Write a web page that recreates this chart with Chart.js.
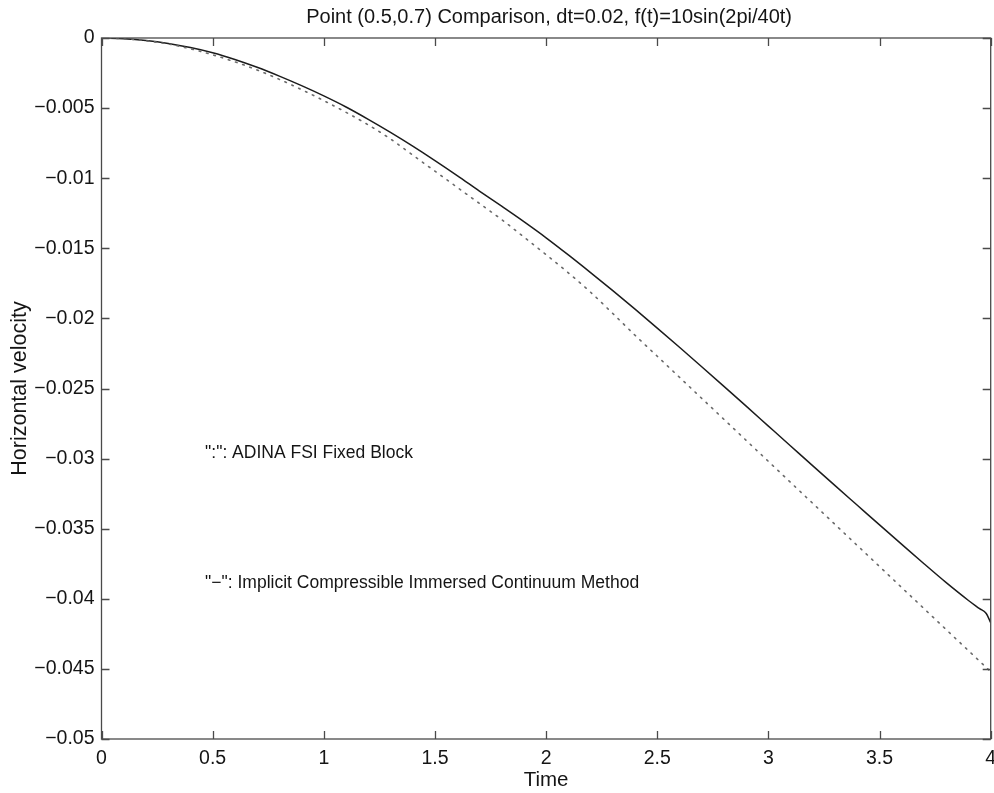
<!DOCTYPE html>
<html>
<head>
<meta charset="utf-8">
<script src="https://cdn.jsdelivr.net/npm/chart.js@4/dist/chart.umd.min.js"></script>
<style>
  html, body { margin: 0; padding: 0; background: #fff; }
  #wrap { width: 994px; height: 793px; position: relative; }
</style>
</head>
<body>
<div id="wrap"><canvas id="c"></canvas></div>
<script>
(function () {
  "use strict";

  var times = [0, 0.1, 0.2, 0.3, 0.4, 0.5, 0.6, 0.7, 0.8, 0.9, 1.0, 1.1, 1.2, 1.3, 1.4, 1.5, 1.6, 1.7, 1.8, 1.9, 2.0,
    2.1, 2.2, 2.3, 2.4, 2.5, 2.6, 2.7, 2.8, 2.9, 3.0, 3.1, 3.2, 3.3, 3.4, 3.5, 3.6, 3.7, 3.8, 3.9, 3.95, 3.98, 4.0];

  // "-": Implicit Compressible Immersed Continuum Method (solid)
  var implicitVel = [0, -0.00005, -0.00018, -0.00039, -0.00068, -0.00105, -0.00153, -0.00209, -0.00272, -0.0034, -0.00413,
    -0.00492, -0.0058, -0.00673, -0.00771, -0.00874, -0.00981, -0.01092, -0.012, -0.0131, -0.01425,
    -0.01547, -0.01673, -0.01802, -0.01934, -0.02069, -0.02206, -0.02345, -0.02485, -0.02626, -0.02768,
    -0.0291, -0.03052, -0.03193, -0.03333, -0.03473, -0.03612, -0.0375, -0.03885, -0.04012, -0.0407, -0.04105, -0.0417];

  // ":": ADINA FSI Fixed Block (dotted)
  var adinaVel = [0, -0.00005, -0.0002, -0.00043, -0.00077, -0.0012, -0.0017, -0.00228, -0.00295, -0.00368, -0.00447,
    -0.0053, -0.0062, -0.0072, -0.00835, -0.0095, -0.01065, -0.0118, -0.01295, -0.0142, -0.01545,
    -0.01675, -0.01813, -0.01965, -0.0212, -0.0227, -0.0242, -0.0257, -0.0272, -0.0287, -0.0302,
    -0.0317, -0.0332, -0.0347, -0.0362, -0.0377, -0.0392, -0.0407, -0.0422, -0.0437, -0.04445, -0.0449, -0.0452];

  var xTicks = [0, 0.5, 1, 1.5, 2, 2.5, 3, 3.5, 4];
  var yTicks = [0, -0.005, -0.01, -0.015, -0.02, -0.025, -0.03, -0.035, -0.04, -0.045, -0.05];

  var titleText = "Point (0.5,0.7) Comparison, dt=0.02, f(t)=10sin(2pi/40t)";
  var xLabel = "Time";
  var yLabel = "Horizontal velocity";
  var notes = [
    { text: "\":\": ADINA FSI Fixed Block", x: 0.466, y: -0.0296 },
    { text: "\"\u2212\": Implicit Compressible Immersed Continuum Method", x: 0.466, y: -0.0389 }
  ];

  var FONT = "'Liberation Sans', Arial, Helvetica, sans-serif";
  var INK = "#151515";
  var AXIS = "#4a4a4a";

  function pts(ys) {
    return times.map(function (t, i) { return { x: t, y: ys[i] }; });
  }

  function fmt(v) {
    var s = String(Number(v.toFixed(3)));
    return s.replace("-", "\u2212");
  }

  var decor = {
    id: "decor",
    afterDraw: function (chart) {
      var ctx = chart.ctx;
      var a = chart.chartArea;
      var xs = chart.scales.x;
      var ys = chart.scales.y;
      var tl = 8;
      ctx.save();
      ctx.strokeStyle = AXIS;
      ctx.lineWidth = 1.3;
      ctx.strokeRect(a.left, a.top, a.right - a.left, a.bottom - a.top);
      ctx.beginPath();
      xTicks.forEach(function (v) {
        var px = Math.round(xs.getPixelForValue(v)) + 0.5;
        ctx.moveTo(px, a.bottom); ctx.lineTo(px, a.bottom - tl);
        ctx.moveTo(px, a.top); ctx.lineTo(px, a.top + tl);
      });
      yTicks.forEach(function (v) {
        var py = Math.round(ys.getPixelForValue(v)) + 0.5;
        ctx.moveTo(a.left, py); ctx.lineTo(a.left + tl, py);
        ctx.moveTo(a.right, py); ctx.lineTo(a.right - tl, py);
      });
      ctx.stroke();

      ctx.fillStyle = INK;
      ctx.textBaseline = "middle";
      ctx.textAlign = "center";
      ctx.font = "20px " + FONT;
      ctx.fillText(titleText, (a.left + a.right) / 2 + 3, a.top - 21);
      ctx.font = "20.5px " + FONT;
      ctx.fillText(xLabel, (a.left + a.right) / 2, a.bottom + 41);
      ctx.save();
      ctx.font = "21.5px " + FONT;
      ctx.translate(20, ys.getPixelForValue(-0.025));
      ctx.rotate(-Math.PI / 2);
      ctx.fillText(yLabel, 0, 0);
      ctx.restore();

      ctx.textAlign = "left";
      ctx.font = "17.5px " + FONT;
      notes.forEach(function (n) {
        ctx.fillText(n.text, xs.getPixelForValue(n.x), ys.getPixelForValue(n.y));
      });
      ctx.restore();
    }
  };

  new Chart(document.getElementById("c"), {
    type: "line",
    data: {
      datasets: [
        {
          label: "ADINA FSI Fixed Block",
          data: pts(adinaVel),
          borderColor: "#6a6a6a",
          borderWidth: 1.6,
          borderDash: [1.6, 6],
          borderCapStyle: "round",
          pointRadius: 0,
          cubicInterpolationMode: "monotone",
          fill: false
        },
        {
          label: "Implicit Compressible Immersed Continuum Method",
          data: pts(implicitVel),
          borderColor: "#1c1c1c",
          borderWidth: 1.5,
          pointRadius: 0,
          cubicInterpolationMode: "monotone",
          fill: false
        }
      ]
    },
    options: {
      responsive: true,
      maintainAspectRatio: false,
      animation: false,
      layout: { padding: { top: 38, right: 3.3, left: 0, bottom: 0 } },
      plugins: {
        legend: { display: false },
        tooltip: { enabled: false },
        title: { display: false }
      },
      scales: {
        x: {
          type: "linear",
          min: 0,
          max: 4,
          afterFit: function (s) {
            s.height = 54;
            s.paddingLeft = 0;
            s.paddingRight = 0;
          },
          afterBuildTicks: function (s) {
            s.ticks = xTicks.map(function (v) { return { value: v }; });
          },
          grid: { display: false, drawTicks: false },
          border: { display: false },
          ticks: {
            color: INK,
            padding: 8,
            maxRotation: 0,
            font: { size: 19.5, family: FONT },
            callback: function (v) { return fmt(v); }
          }
        },
        y: {
          min: -0.05,
          max: 0,
          afterFit: function (s) {
            s.width = 101.5;
            s.paddingTop = 0;
            s.paddingBottom = 0;
          },
          afterBuildTicks: function (s) {
            s.ticks = yTicks.slice().reverse().map(function (v) { return { value: v }; });
          },
          grid: { display: false, drawTicks: false },
          border: { display: false },
          ticks: {
            color: INK,
            padding: 7,
            font: { size: 19.5, family: FONT },
            callback: function (v) { return fmt(v); }
          }
        }
      }
    },
    plugins: [decor]
  });
})();
</script>
</body>
</html>
